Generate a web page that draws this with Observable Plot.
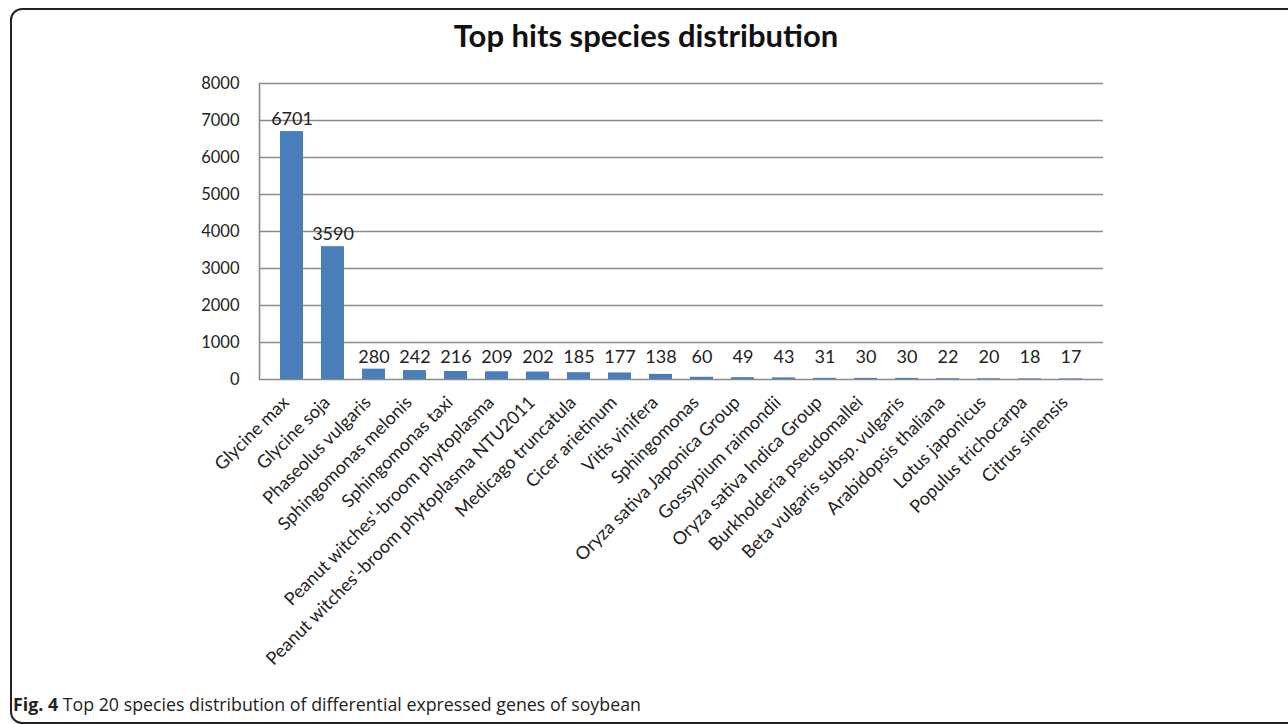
<!DOCTYPE html>
<html>
<head>
<meta charset="utf-8">
<script src="https://cdn.jsdelivr.net/npm/d3@7"></script>
<script src="https://cdn.jsdelivr.net/npm/@observablehq/plot@0.6"></script>
<style>
  html, body { margin: 0; padding: 0; background: #fff; }
  body { width: 1288px; height: 724px; position: relative; overflow: hidden; font-family: Lato, "Open Sans", sans-serif; }
  #frame {
    position: absolute; left: 10px; top: 8px; width: 1300px; height: 716px;
    border: 2px solid #222; border-radius: 12px; box-sizing: border-box;
  }
  #title {
    position: absolute; left: 0; width: 1288px; top: 16px; text-align: center;
    font-family: Lato, sans-serif; font-weight: 700; font-size: 31px; color: #111;
    padding-left: 2px;
  }
  #chart { position: absolute; left: 0; top: 70px; }
  #caption {
    position: absolute; left: 13px; top: 692px; font-family: "Open Sans", sans-serif;
    font-size: 17.8px; color: #222; white-space: nowrap;
  }
  #caption b { font-weight: 700; }
</style>
</head>
<body>
<div id="frame"></div>
<div id="title">Top hits species distribution</div>
<div id="chart"></div>
<div id="caption"><b>Fig. 4</b> Top 20 species distribution of differential expressed genes of soybean</div>
<script>
// Species (in ranked order) and number of differentially expressed genes hitting each
const species = [
  "Glycine max",
  "Glycine soja",
  "Phaseolus vulgaris",
  "Sphingomonas melonis",
  "Sphingomonas taxi",
  "Peanut witches'-broom phytoplasma",
  "Peanut witches'-broom phytoplasma NTU2011",
  "Medicago truncatula",
  "Cicer arietinum",
  "Vitis vinifera",
  "Sphingomonas",
  "Oryza sativa Japonica Group",
  "Gossypium raimondii",
  "Oryza sativa Indica Group",
  "Burkholderia pseudomallei",
  "Beta vulgaris subsp. vulgaris",
  "Arabidopsis thaliana",
  "Lotus japonicus",
  "Populus trichocarpa",
  "Citrus sinensis"
];
const hits = [6701, 3590, 280, 242, 216, 209, 202, 185, 177, 138, 60, 49, 43, 31, 30, 30, 22, 20, 18, 17];
const yTicks = [0, 1000, 2000, 3000, 4000, 5000, 6000, 7000, 8000];

const rows = species.map((name, i) => ({name, value: hits[i]}));

// short bars share one label baseline so the small counts read as a row
const labelFloor = 280;

const chart = Plot.plot({
  width: 1288,
  height: 620,
  marginTop: 13,
  marginLeft: 259,
  marginRight: 185,
  marginBottom: 311,
  style: {fontFamily: "Lato, sans-serif", fontSize: "16px", color: "#222", background: "transparent"},
  x: {domain: species, padding: 0.43, label: null},
  y: {domain: [0, 8000], ticks: yTicks, label: null},
  marks: [
    Plot.ruleY(yTicks, {stroke: "#8a8a8a", strokeWidth: 1.6}),
    Plot.frame({anchor: "left", stroke: "#8a8a8a", strokeWidth: 1.6}),
    Plot.barY(rows, {x: "name", y: "value", fill: "#4a7ebb"}),
    Plot.text(rows, {
      x: "name",
      y: d => Math.max(d.value, labelFloor),
      text: d => String(d.value),
      dy: -12, fontSize: 18, fill: "#222"
    }),
    Plot.axisY({ticks: yTicks, tickSize: 0, tickPadding: 20, fontSize: 16.5, label: null, tickFormat: d => String(d)}),
    Plot.axisX({tickSize: 0, tickRotate: -45, tickPadding: 20, dx: -6, fontSize: 18, label: null})
  ]
});
document.getElementById("chart").appendChild(chart);
</script>
</body>
</html>
